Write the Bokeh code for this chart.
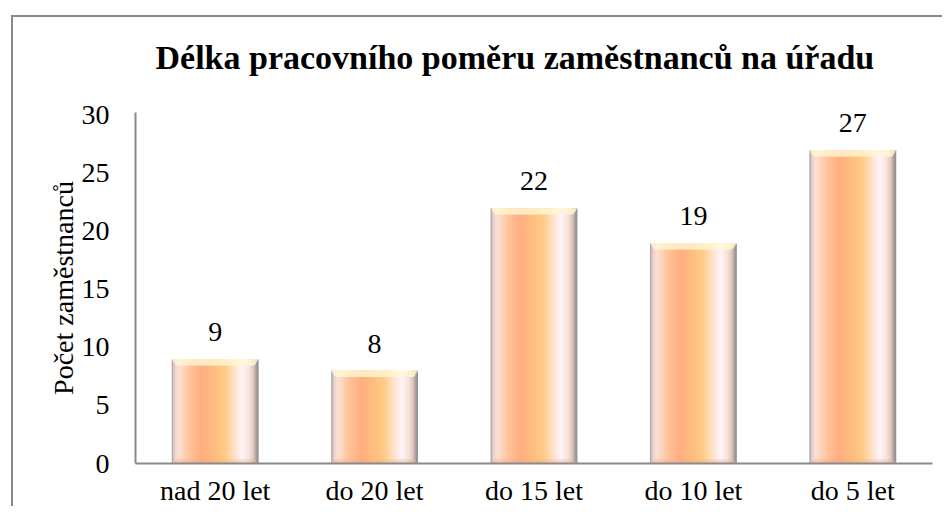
from bokeh.plotting import figure
from bokeh.models import Range1d, FixedTicker, Title
from bokeh.core.properties import value
from bokeh.embed import file_html
from bokeh.resources import INLINE

categories = ["nad 20 let", "do 20 let", "do 15 let", "do 10 let", "do 5 let"]
counts = [9, 8, 22, 19, 27]
y_ticks = [0, 5, 10, 15, 20, 25, 30]
title_text = "Délka pracovního poměru zaměstnanců na úřadu"
y_label = "Počet zaměstnanců"

FONT = "Liberation Serif"
GRAY = "#8a8a8a"
FS = "28px"

p = figure(width=931, height=491, output_backend="svg", toolbar_location=None,
           x_range=Range1d(-0.5, len(categories) - 0.5), y_range=Range1d(0, 30.25),
           min_border_left=122, min_border_right=12, min_border_top=95,
           min_border_bottom=44, title=None)
p.styles = {"margin-left": "11px", "margin-top": "15px",
            "border-left": "2px solid " + GRAY, "border-top": "2px solid " + GRAY}

# spacer (nearest the plot area) then the real title above it
p.add_layout(Title(text=" ", text_font=FONT, text_font_size="18px", standoff=10), "above")
p.add_layout(Title(text=title_text, text_font=FONT, text_font_size="34px",
                   text_font_style="bold", text_color="black", align="left",
                   offset=20, standoff=10), "above")

p.grid.visible = False
p.outline_line_color = None
p.background_fill_color = "white"
p.border_fill_color = "white"

for ax in (p.xaxis[0], p.yaxis[0]):
    ax.axis_line_color = GRAY
    ax.axis_line_width = 2
    ax.major_tick_line_color = None
    ax.minor_tick_line_color = None
    ax.major_tick_out = 0
    ax.major_tick_in = 0
    ax.major_label_text_font = FONT
    ax.major_label_text_font_size = FS
    ax.major_label_text_color = "black"

p.yaxis.ticker = FixedTicker(ticks=y_ticks)
p.yaxis.major_label_standoff = 26
p.yaxis.axis_label = y_label
p.yaxis.axis_label_text_font = FONT
p.yaxis.axis_label_text_font_size = FS
p.yaxis.axis_label_text_font_style = "normal"
p.yaxis.axis_label_text_color = "black"
p.yaxis.axis_label_standoff = 0

p.xaxis.ticker = FixedTicker(ticks=list(range(len(categories))))
p.xaxis.major_label_overrides = {i: c for i, c in enumerate(categories)}
p.xaxis.major_label_standoff = 11
p.xaxis.major_label_text_line_height = 0.9

# horizontal colour profile of the glossy bars
stops = [
    (0.00, (165, 155, 155)), (0.03, (230, 208, 208)), (0.08, (252, 224, 212)),
    (0.20, (255, 196, 156)), (0.35, (255, 174, 128)), (0.50, (255, 190, 128)),
    (0.62, (255, 204, 134)), (0.74, (255, 228, 210)), (0.82, (255, 244, 252)),
    (0.90, (248, 226, 216)), (0.95, (220, 198, 190)), (1.00, (145, 138, 134)),
]


def prof(t):
    for (t0, c0), (t1, c1) in zip(stops[:-1], stops[1:]):
        if t <= t1:
            f = (t - t0) / (t1 - t0)
            return tuple(c0[j] + (c1[j] - c0[j]) * f for j in range(3))
    return stops[-1][1]


def mix(c, d, f):
    return tuple(c[j] * (1 - f) + d[j] * f for j in range(3))


def hexc(c):
    return "#%02x%02x%02x" % tuple(int(round(v)) for v in c)


n = 60
bw = 0.54
sw = bw / n
xs, tops, cols, band_b, band_c, bot_t, bot_c = [], [], [], [], [], [], []
for i, c in enumerate(counts):
    for k in range(n):
        t = (k + 0.5) / n
        base = prof(t)
        xs.append(i - bw / 2 + t * bw)
        tops.append(c)
        cols.append(hexc(base))
        edge = min(t, 1 - t) / 0.05
        h = 0.55 * min(1.0, edge)
        band_b.append(c - h)
        band_c.append(hexc(mix(base, (255, 248, 210), 0.8)))
        bot_t.append(0.35 * min(1.0, edge))
        bot_c.append(hexc(mix(base, (238, 168, 138), 0.35)))

w = sw * 1.6
p.vbar(x=xs, top=tops, bottom=0, width=w, fill_color=cols, line_color=None)
p.vbar(x=xs, top=tops, bottom=band_b, width=w, fill_color=band_c, line_color=None)
p.vbar(x=xs, top=bot_t, bottom=0, width=w, fill_color=bot_c, line_color=None)

p.text(x=list(range(len(categories))), y=counts, text=[str(c) for c in counts],
       text_align="center", text_baseline="alphabetic", y_offset=-27,
       text_font=value(FONT), text_font_size=FS, text_color="black")

open("out.html", "w").write(file_html(p, INLINE))
